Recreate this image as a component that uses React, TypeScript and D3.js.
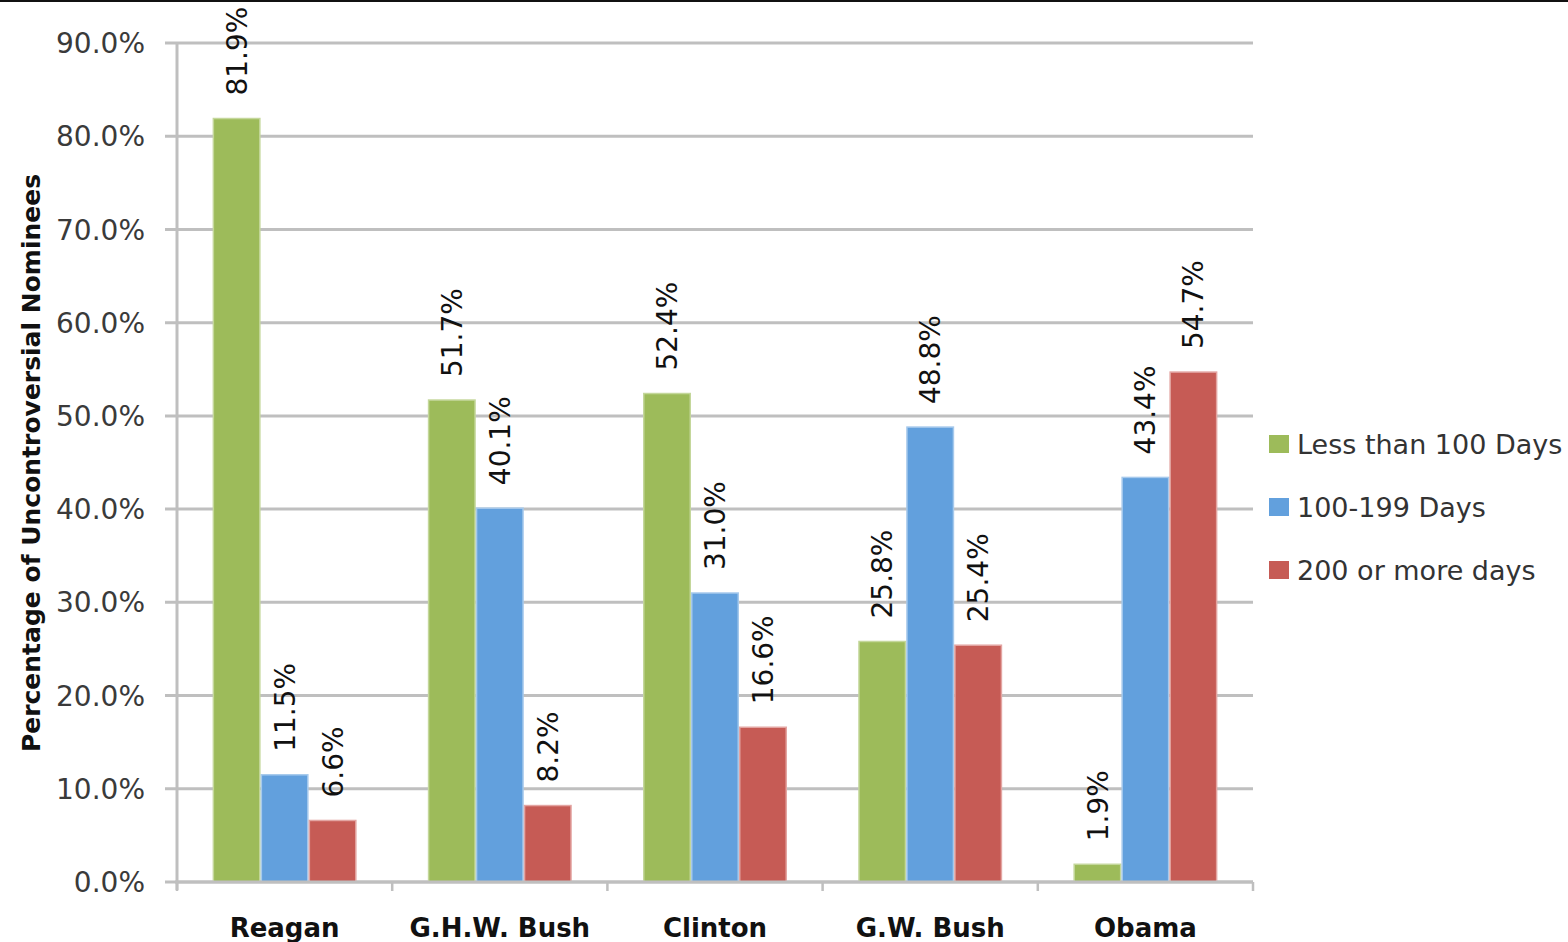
import React from "react";
import * as d3 from "d3";

// Presidents along the x axis
const presidents = ["Reagan", "G.H.W. Bush", "Clinton", "G.W. Bush", "Obama"];

// Confirmation-time buckets (legend entries)
const seriesNames = ["Less than 100 Days", "100-199 Days", "200 or more days"];
const seriesColors = ["#9DBB5A", "#62A0DD", "#C65B55"];
const seriesEdges = ["#C4D79B", "#A6C9EC", "#E3A5A2"];

// Share of uncontroversial nominees per bucket (percent)
const lessThan100 = [81.9, 51.7, 52.4, 25.8, 1.9];
const from100to199 = [11.5, 40.1, 31.0, 48.8, 43.4];
const over200 = [6.6, 8.2, 16.6, 25.4, 54.7];

const yTicks = [0, 10, 20, 30, 40, 50, 60, 70, 80, 90];

const W = 1568;
const H = 942;
const plot = { left: 177, right: 1253, top: 43, bottom: 882 };
const FONT = "'DejaVu Sans', Verdana, sans-serif";

export default function App() {
  const series = [lessThan100, from100to199, over200];

  const x0 = d3
    .scaleBand<string>()
    .domain(presidents)
    .range([plot.left, plot.right])
    .paddingInner(0.331)
    .paddingOuter(0.1655);

  const x1 = d3
    .scaleBand<number>()
    .domain(d3.range(seriesNames.length))
    .range([0, x0.bandwidth()])
    .padding(0);

  const y = d3.scaleLinear().domain([0, 90]).range([plot.bottom, plot.top]);

  const step = x0.step();
  const boundaries = d3.range(presidents.length + 1).map((i) => plot.left + i * step);

  return (
    <svg
      width={W}
      height={H}
      style={{ position: "absolute", left: 0, top: 0, background: "#fff" }}
      fontFamily={FONT}
    >
      <rect x={0} y={0} width={W} height={H} fill="#fff" />
      <line x1={0} x2={W} y1={1} y2={1} stroke="#111" strokeWidth={2} />

      {/* horizontal gridlines with short ticks left of the axis */}
      {yTicks.map((t) => (
        <g key={t}>
          <line
            x1={plot.left - 12}
            x2={plot.right}
            y1={y(t)}
            y2={y(t)}
            stroke="#BFBFBF"
            strokeWidth={3}
          />
          <text
            x={145}
            y={y(t)}
            dy="0.36em"
            textAnchor="end"
            fontSize={28}
            fill="#3a3a3a"
          >
            {d3.format(".1f")(t) + "%"}
          </text>
        </g>
      ))}

      {/* y axis line */}
      <line
        x1={plot.left}
        x2={plot.left}
        y1={plot.top}
        y2={plot.bottom + 8}
        stroke="#BFBFBF"
        strokeWidth={3}
      />

      {/* category boundary ticks below the x axis */}
      {boundaries.map((bx, i) => (
        <line
          key={i}
          x1={bx}
          x2={bx}
          y1={plot.bottom}
          y2={plot.bottom + 9}
          stroke="#BFBFBF"
          strokeWidth={2.5}
        />
      ))}

      {/* bars */}
      {presidents.map((p, i) => (
        <g key={p} transform={`translate(${x0(p)},0)`}>
          {series.map((vals, s) => (
            <rect
              key={s}
              x={x1(s)! + 0.75}
              y={y(vals[i])}
              width={x1.bandwidth() - 1.5}
              height={y(0) - y(vals[i])}
              fill={seriesColors[s]}
              stroke={seriesEdges[s]}
              strokeWidth={1.5}
            />
          ))}
        </g>
      ))}

      {/* value labels, rotated */}
      {presidents.map((p, i) =>
        series.map((vals, s) => {
          const cx = x0(p)! + x1(s)! + x1.bandwidth() / 2;
          const ty = y(vals[i]) - 23;
          return (
            <text
              key={p + s}
              transform={`translate(${cx},${ty}) rotate(-90)`}
              dy="0.36em"
              textAnchor="start"
              fontSize={28}
              fill="#111"
            >
              {d3.format(".1f")(vals[i]) + "%"}
            </text>
          );
        })
      )}

      {/* x axis line */}
      <line
        x1={plot.left - 2}
        x2={plot.right}
        y1={plot.bottom}
        y2={plot.bottom}
        stroke="#BFBFBF"
        strokeWidth={3}
      />

      {/* category labels */}
      {presidents.map((p) => (
        <text
          key={p}
          x={x0(p)! + x0.bandwidth() / 2}
          y={937}
          textAnchor="middle"
          fontSize={26}
          fontWeight="bold"
          fill="#111"
        >
          {p}
        </text>
      ))}

      {/* y axis title */}
      <text
        transform={`translate(31,463) rotate(-90)`}
        dy="0.36em"
        textAnchor="middle"
        fontSize={25}
        fontWeight="bold"
        fill="#111"
      >
        Percentage of Uncontroversial Nominees
      </text>

      {/* legend */}
      {seriesNames.map((name, s) => {
        const cy = 444 + s * 63;
        return (
          <g key={name}>
            <rect x={1269} y={cy - 9} width={20} height={18} fill={seriesColors[s]} />
            <text x={1297} y={cy} dy="0.36em" fontSize={27} fill="#333">
              {name}
            </text>
          </g>
        );
      })}
    </svg>
  );
}
